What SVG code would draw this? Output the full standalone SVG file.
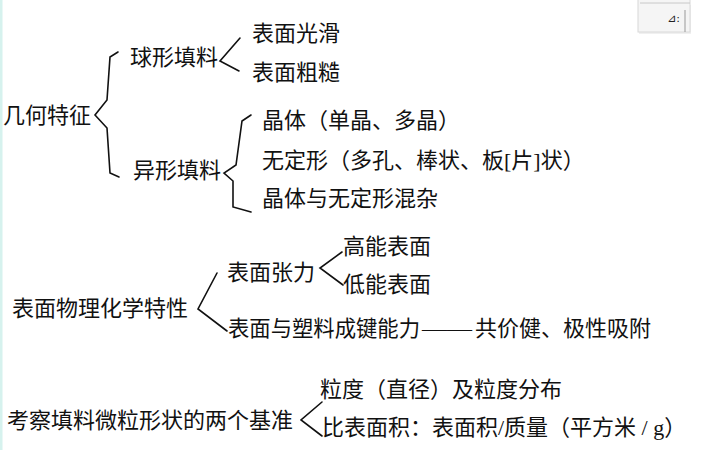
<svg xmlns="http://www.w3.org/2000/svg" width="720" height="450" viewBox="0 0 720 450">
<style>
  .t { font-family: "Liberation Serif", "Noto Sans CJK SC", serif; font-size: 22px; fill: #111; }
  .b { fill: none; stroke: #111; stroke-width: 1.6; stroke-linejoin: miter; stroke-linecap: round; }
</style>
<rect width="720" height="450" fill="#ffffff"/>
<rect x="0" y="0" width="2.5" height="450" fill="#d6f2ee"/>
<g id="ui-widget">
  <rect x="639" y="5" width="52" height="29" fill="#e6e6e6" opacity="0.6"/>
  <rect x="638" y="-1" width="52" height="33" fill="#f5f5f5" stroke="#d8d8d8" stroke-width="1"/>
  <line x1="640" y1="3" x2="690" y2="3" stroke="#c8c8c8" stroke-width="1"/>
  <text x="667" y="22" font-family="'DejaVu Sans', sans-serif" font-size="11" fill="#222">⊿:</text>
  <line x1="685" y1="10" x2="685" y2="32" stroke="#999" stroke-width="1"/>
</g>
<g id="connectors">
  <polyline class="b" points="118,52 110,57 107,100 95,115 107,128 110,173 119,177"/>
  <polyline class="b" points="240,38 220,61 239,71"/>
  <polyline class="b" points="251,115 242,121 236,165 224,173 233,181 233,207 251,212"/>
  <polyline class="b" points="217,273 198,309 227,331"/>
  <polyline class="b" points="342,252 320,268 343,285"/>
  <polyline class="b" points="322,402 301,420 322,436"/>
</g>
<g id="n-jihe"><text class="t" x="3" y="123">几何特征</text></g>
<g id="n-qiuxing"><text class="t" x="130" y="65">球形填料</text></g>
<g id="n-guanghua"><text class="t" x="252" y="41">表面光滑</text></g>
<g id="n-cucao"><text class="t" x="252" y="80">表面粗糙</text></g>
<g id="n-yixing"><text class="t" x="133" y="178">异形填料</text></g>
<g id="n-jingti"><text class="t" x="262" y="128">晶体（单晶、多晶）</text></g>
<g id="n-wudingxing"><text class="t" x="262" y="168">无定形（多孔、棒状、板[片]状）</text></g>
<g id="n-hunza"><text class="t" x="262" y="206">晶体与无定形混杂</text></g>
<g id="n-biaomian"><text class="t" x="12" y="316">表面物理化学特性</text></g>
<g id="n-zhangli"><text class="t" x="227" y="280">表面张力</text></g>
<g id="n-gaoneng"><text class="t" x="343" y="254">高能表面</text></g>
<g id="n-dineng"><text class="t" x="343" y="292">低能表面</text></g>
<g id="n-chengjian"><text class="t" x="228" y="336"><tspan textLength="192" lengthAdjust="spacingAndGlyphs">表面与塑料成键能力</tspan><tspan x="422" textLength="50" lengthAdjust="spacingAndGlyphs">——</tspan><tspan x="475">共价健、极性吸附</tspan></text></g>
<g id="n-kaocha"><text class="t" x="7" y="428">考察填料微粒形状的两个基准</text></g>
<g id="n-lidu"><text class="t" x="320" y="397">粒度（直径）及粒度分布</text></g>
<g id="n-bibiao"><text class="t" x="322" y="435">比表面积：表面积/质量（平方米 / g）</text></g>
</svg>
